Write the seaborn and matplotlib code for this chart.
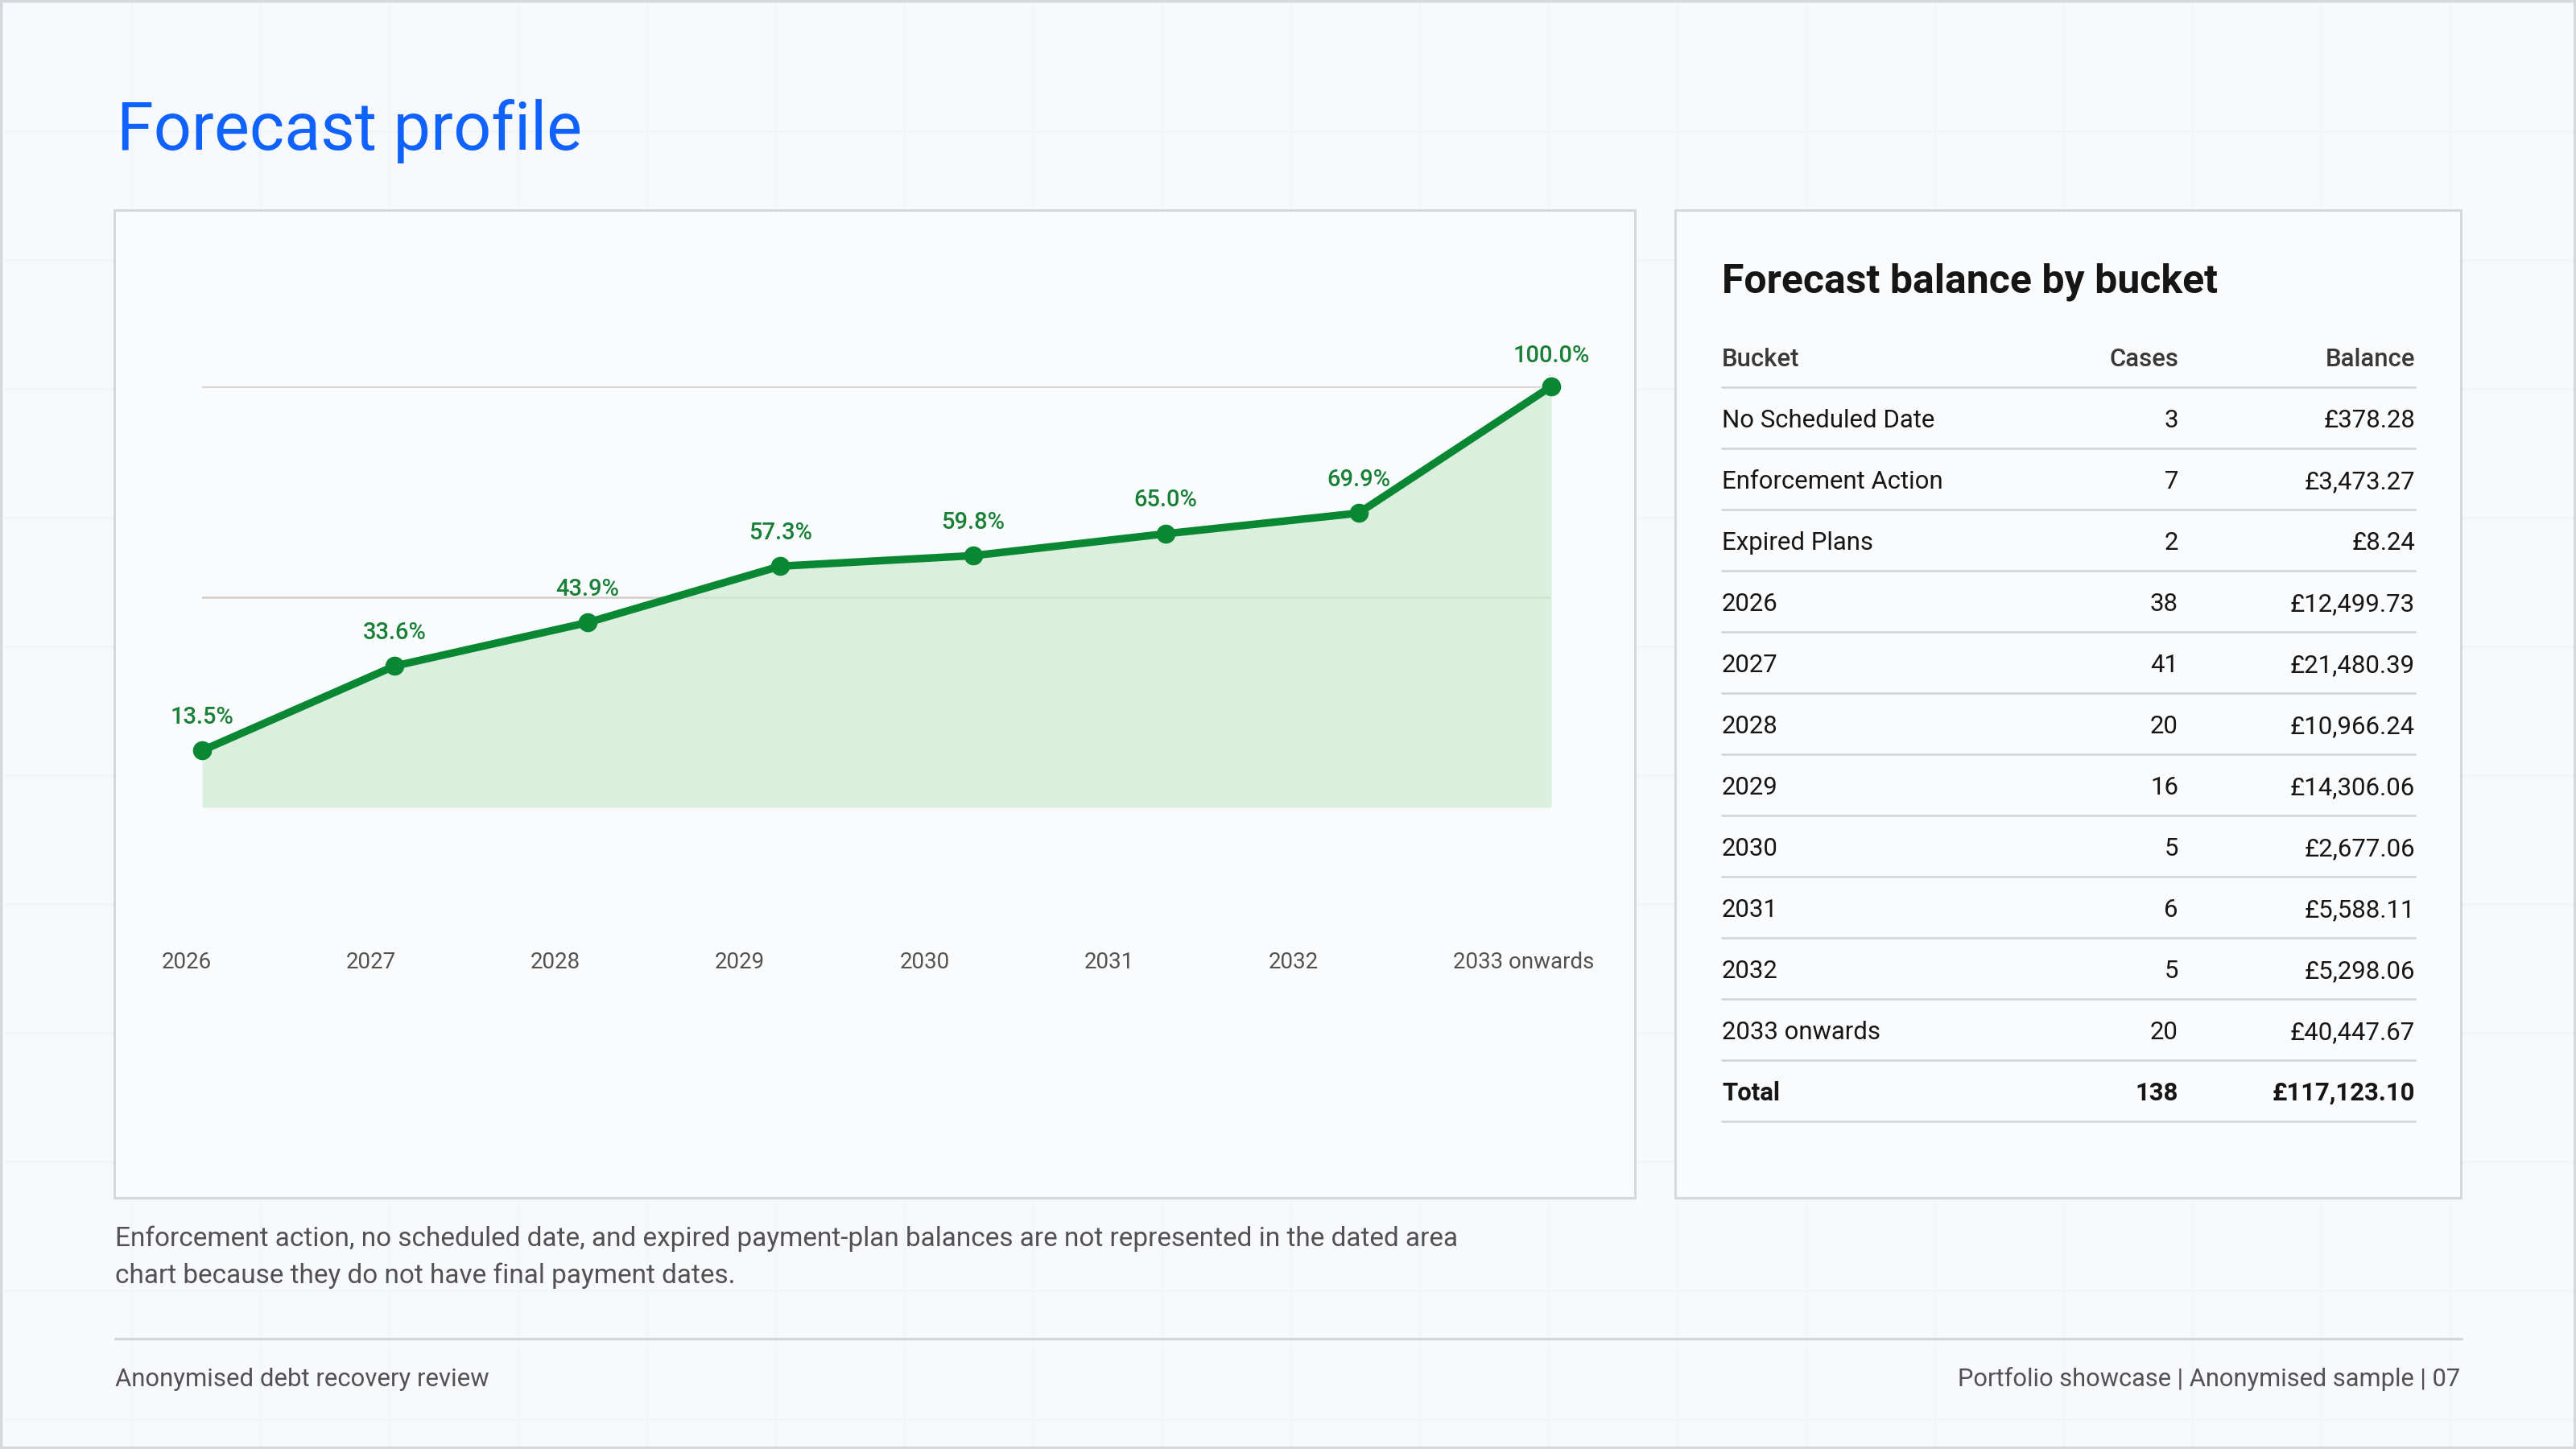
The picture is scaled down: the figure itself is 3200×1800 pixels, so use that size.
import numpy as np
import pandas as pd
import seaborn as sns
import matplotlib.pyplot as plt
from matplotlib.patches import Rectangle

# chart data
years = ['2026', '2027', '2028', '2029', '2030', '2031', '2032', '2033 onwards']
cum_pct = [13.5, 33.6, 43.9, 57.3, 59.8, 65.0, 69.9, 100.0]

# table data
buckets = ['No Scheduled Date', 'Enforcement Action', 'Expired Plans', '2026', '2027',
           '2028', '2029', '2030', '2031', '2032', '2033 onwards']
cases = [3, 7, 2, 38, 41, 20, 16, 5, 6, 5, 20]
balances = [378.28, 3473.27, 8.24, 12499.73, 21480.39, 10966.24, 14306.06,
            2677.06, 5588.11, 5298.06, 40447.67]
total_cases = 138
total_balance = 117123.10

note_lines = ['Enforcement action, no scheduled date, and expired payment-plan balances are not represented in the dated area',
              'chart because they do not have final payment dates.']

sns.set_theme(style='white')
plt.rcParams['font.family'] = ['Roboto', 'DejaVu Sans']

W, H = 3200, 1800
fig = plt.figure(figsize=(16, 9), dpi=200)
fig.patch.set_facecolor('#f7f9fc')

# background layer in pixel coords
bg = fig.add_axes([0, 0, 1, 1])
bg.set_xlim(0, W)
bg.set_ylim(H, 0)
bg.axis('off')

for g in np.arange(3, W, 160):
    bg.axvline(g, color='#eef2f9', lw=0.5, zorder=0)
for g in np.arange(3, H, 160):
    bg.axhline(g, color='#eef2f9', lw=0.5, zorder=0)

bg.add_patch(Rectangle((1, 1), W - 2, H - 2, fill=False, edgecolor='#d4d7dc', lw=1.5, zorder=5))

# panels
bg.add_patch(Rectangle((142, 261), 2031 - 142, 1488 - 261, facecolor='#fbfcfe',
                       edgecolor='#d3d6db', lw=1.1, zorder=1, alpha=0.95))
bg.add_patch(Rectangle((2081, 261), 3057 - 2081, 1488 - 261, facecolor='#fbfcfe',
                       edgecolor='#d3d6db', lw=1.1, zorder=1, alpha=0.95))

bg.text(145, 186, 'Forecast profile', fontsize=29.8, color='#0f62fe',
        fontweight='normal', va='baseline', zorder=3)

# table
tx = 2139
bg.text(tx, 363, 'Forecast balance by bucket', fontsize=18, fontweight='bold',
        color='#161616', va='baseline', zorder=3)
hdr = dict(fontsize=11.2, color='#393939', va='baseline', zorder=3, fontweight='medium')
bg.text(tx, 455, 'Bucket', ha='left', **hdr)
bg.text(2706, 455, 'Cases', ha='right', **hdr)
bg.text(3000, 455, 'Balance', ha='right', **hdr)
bg.plot([tx, 3000], [481, 481], color='#d3d6db', lw=1.0, zorder=2)

rows = list(zip(buckets, cases, balances)) + [('Total', total_cases, total_balance)]
for i, (b, c, v) in enumerate(rows):
    yb = 531 + 76 * i
    is_total = b == 'Total'
    kw = dict(fontsize=11.2, color='#161616', va='baseline', zorder=3,
              fontweight='bold' if is_total else 'normal')
    bg.text(tx, yb, b, ha='left', **kw)
    bg.text(2706, yb, f'{c}', ha='right', **kw)
    bg.text(3000, yb, f'£{v:,.2f}', ha='right', **kw)
    bg.plot([tx, 3000], [557 + 76 * i] * 2, color='#d3d6db', lw=1.0, zorder=2)

# note + footer
for i, line in enumerate(note_lines):
    bg.text(143, 1539 + 46 * i, line, fontsize=12, color='#525252', va='center', zorder=3)
bg.plot([143, 3058], [1663, 1663], color='#d3d6db', lw=1.2, zorder=2)
bg.text(143, 1713, 'Anonymised debt recovery review', fontsize=11.2, color='#525252',
        va='center', zorder=3)
bg.text(3056, 1713, 'Portfolio showcase | Anonymised sample | 07', fontsize=11.1,
        color='#525252', va='center', ha='right', zorder=3)

# area chart
df = pd.DataFrame({'bucket': years, 'pct': cum_pct, 'pos': np.arange(len(years))})
ax = fig.add_axes([251 / W, (H - 1003) / H, (1927 - 251) / W, (1003 - 480) / H])
ax.set_facecolor('none')
ax.fill_between(df['pos'], 0, df['pct'], color='#cdebd2', alpha=0.7, lw=0, zorder=1)
sns.lineplot(data=df, x='pos', y='pct', ax=ax, color='#0a8733', lw=3.4, marker='o',
             markersize=8.5, markeredgewidth=0, zorder=3, clip_on=False)
for _, r in df.iterrows():
    dy = 13.5 if r['pct'] >= 100 else 15
    ax.annotate(f"{r['pct']:.1f}%", (r['pos'], r['pct']), xytext=(0, dy),
                textcoords='offset points', ha='center', va='center', fontsize=10.5,
                color='#198038', fontweight='medium', annotation_clip=False)

ax.set_xlim(0, len(years) - 1)
ax.set_ylim(0, 100)
ax.set_yticks([50, 100])
ax.yaxis.grid(True, color='#d9d1cc', lw=1.0)
ax.set_axisbelow(True)
ax.tick_params(left=False, labelleft=False, bottom=False, labelbottom=False)
ax.set_xlabel('')
ax.set_ylabel('')
sns.despine(ax=ax, left=True, bottom=True)

# category labels sit a little left of the points
for i, lab in enumerate(df['bucket']):
    ax.text(i * 0.957 - 0.21, -0.369, lab, transform=ax.get_xaxis_transform(),
            ha='left', va='center', fontsize=10, color='#525252')

fig.savefig('out.png', dpi=200, facecolor=fig.get_facecolor())
